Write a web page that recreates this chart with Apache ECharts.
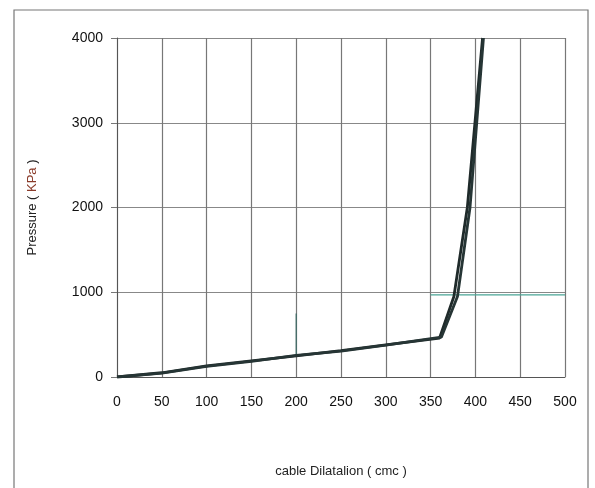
<!DOCTYPE html>
<html>
<head>
<meta charset="utf-8">
<script src="https://cdn.jsdelivr.net/npm/echarts@6/dist/echarts.min.js"></script>
<style>
html, body { margin: 0; padding: 0; background: #fff; }
#main { width: 595px; height: 488px; }
</style>
</head>
<body>
<div id="main"></div>
<script>
// data
var xTicks = [0, 50, 100, 150, 200, 250, 300, 350, 400, 450, 500];
var yTicks = [0, 1000, 2000, 3000, 4000];

var loadX = [0, 50, 100, 150, 200, 250, 300, 360, 376, 391, 408];
var loadY = [0, 50, 130, 190, 250, 310, 380, 460, 950, 2000, 4000];

var unloadX = [0, 50, 100, 150, 200, 250, 300, 362, 380, 394, 409];
var unloadY = [0, 45, 125, 185, 255, 305, 375, 470, 950, 2000, 4000];

var spikeX = [200, 200];
var spikeY = [260, 750];

var tealX = [350, 500];
var tealY = [970, 970];

function pairs(xs, ys) {
  return xs.map(function (x, i) { return [x, ys[i]]; });
}

function plain(v) { return String(v); }

var myChart = echarts.init(document.getElementById('main'));

var font = 'Liberation Sans, Arial, sans-serif';

var option = {
  backgroundColor: '#fff',
  animation: false,
  grid: {
    left: 117,
    right: 30,
    top: 38,
    bottom: 111
  },
  graphic: [
    {
      type: 'rect',
      shape: { x: 14, y: 10, width: 574, height: 490 },
      style: { fill: 'none', stroke: '#777', lineWidth: 1.2 }
    }
  ],
  xAxis: {
    type: 'value',
    min: 0,
    max: 500,
    interval: 50,
    name: 'cable Dilatalion ( cmc )',
    nameLocation: 'middle',
    nameGap: 88,
    nameTextStyle: { fontFamily: font, fontSize: 13, color: '#222' },
    axisLine: { show: true, lineStyle: { color: '#555', width: 1 } },
    axisTick: { show: false },
    axisLabel: { fontFamily: font, fontSize: 14, color: '#111', margin: 18, formatter: plain },
    splitLine: { show: true, lineStyle: { color: '#777', width: 1.2 } }
  },
  yAxis: {
    type: 'value',
    min: 0,
    max: 4000,
    interval: 1000,
    name: '{a|Pressure ( }{b|KPa}{a| )}',
    nameLocation: 'middle',
    nameGap: 78,
    nameRotate: 90,
    nameTextStyle: {
      fontFamily: font,
      fontSize: 13,
      color: '#222',
      rich: {
        a: { fontFamily: font, fontSize: 13, color: '#222' },
        b: { fontFamily: font, fontSize: 13, color: '#8a3b2a' }
      }
    },
    axisLine: { show: true, lineStyle: { color: '#555', width: 1 } },
    axisTick: { show: true, length: 6, inside: false, lineStyle: { color: '#777' } },
    axisLabel: { fontFamily: font, fontSize: 14, color: '#111', margin: 14, formatter: plain },
    splitLine: { show: true, lineStyle: { color: '#888', width: 1 } }
  },
  series: [
    {
      name: 'teal',
      type: 'line',
      data: pairs(tealX, tealY),
      symbol: 'none',
      lineStyle: { color: '#4aa596', width: 1.2 },
      z: 1
    },
    {
      name: 'spike',
      type: 'line',
      data: pairs(spikeX, spikeY),
      symbol: 'none',
      lineStyle: { color: '#3d6b66', width: 1.2 },
      z: 2
    },
    {
      name: 'load',
      type: 'line',
      data: pairs(loadX, loadY),
      symbol: 'none',
      lineStyle: { color: '#1f2a2a', width: 2.8 },
      z: 3
    },
    {
      name: 'unload',
      type: 'line',
      data: pairs(unloadX, unloadY),
      symbol: 'none',
      lineStyle: { color: '#263535', width: 2.8 },
      z: 3
    }
  ]
};

myChart.setOption(option);
</script>
</body>
</html>
